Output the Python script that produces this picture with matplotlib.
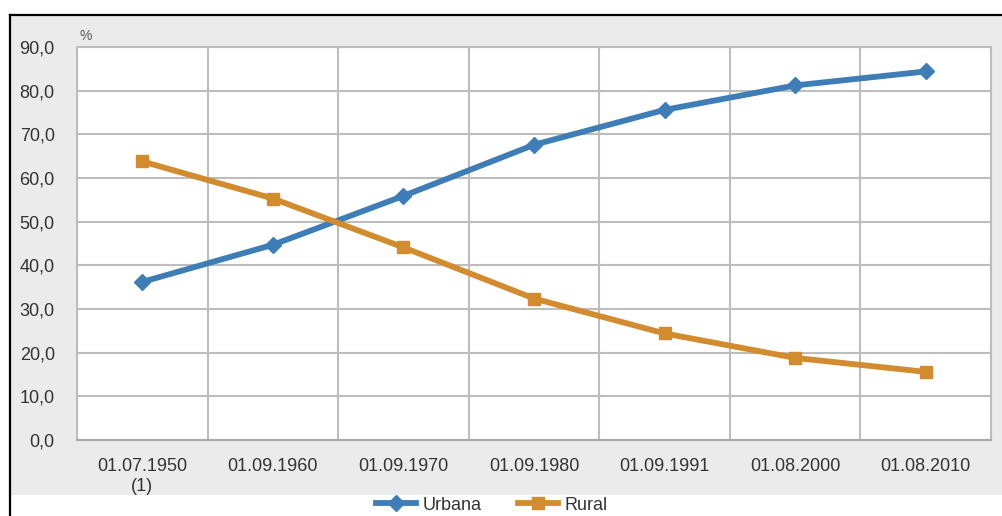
import matplotlib
matplotlib.use("Agg")
from matplotlib import pyplot as plt
from matplotlib.lines import Line2D
from matplotlib.patches import Rectangle

categories = ["01.07.1950\n(1)", "01.09.1960", "01.09.1970", "01.09.1980",
              "01.09.1991", "01.08.2000", "01.08.2010"]
urbana = [36.2, 44.7, 55.9, 67.6, 75.6, 81.2, 84.4]
rural = [63.8, 55.3, 44.1, 32.4, 24.4, 18.8, 15.6]
y_ticks = [0, 10, 20, 30, 40, 50, 60, 70, 80, 90]

plt.rcParams['font.family'] = ['Liberation Sans', 'DejaVu Sans']

W, H = 1003, 516
fig = plt.figure(figsize=(W / 100, H / 100), dpi=100)
fig.patch.set_facecolor('white')

# gray chart panel and black frame (left + top)
fig.add_artist(Rectangle((11 / W, 1 - 495 / H), 1 - 11 / W, (495 - 16) / H,
                         transform=fig.transFigure, facecolor='#ebebeb',
                         edgecolor='none', zorder=0))
fig.add_artist(Line2D([10 / W, 10 / W], [0, 1 - 15 / H], transform=fig.transFigure,
                      color='black', lw=1.6))
fig.add_artist(Line2D([10 / W, 1], [1 - 15 / H, 1 - 15 / H], transform=fig.transFigure,
                      color='black', lw=1.6))

ax = fig.add_axes([77 / W, 1 - 440 / H, (991 - 77) / W, (440 - 47) / H])
ax.set_facecolor('white')

x = list(range(len(categories)))
ax.plot(x, urbana, color='#3e7db6', lw=4.2, marker='D', markersize=8,
        label='Urbana', zorder=3)
ax.plot(x, rural, color='#d28b2e', lw=4.2, marker='s', markersize=9,
        label='Rural', zorder=3)

ax.set_xlim(-0.5, len(categories) - 0.5)
ax.set_ylim(0, 90)
ax.set_yticks(y_ticks)
ax.set_yticklabels([f"{v:.1f}".replace('.', ',') for v in y_ticks])
ax.set_xticks(x)
ax.set_xticklabels(categories)

grid_c = '#bdbdbd'
for v in y_ticks:
    ax.axhline(v, color=grid_c, lw=1.5, zorder=1)
for k in range(len(categories) + 1):
    ax.axvline(k - 0.5, color=grid_c, lw=1.5, zorder=1)

for s in ax.spines.values():
    s.set_color(grid_c)
    s.set_linewidth(1.5)
ax.spines['bottom'].set_color('#a8a8a8')

ax.tick_params(axis='both', length=0, labelsize=13, colors='#333333')
ax.tick_params(axis='x', pad=13)
ax.tick_params(axis='y', pad=16)

fig.text(80 / W, 1 - 36 / H, '%', fontsize=10, color='#555555', va='center')

fig.legend(loc='center', bbox_to_anchor=(492 / W, 1 - 505 / H), ncol=2,
           frameon=False, fontsize=13, handlelength=2.2, columnspacing=2.0,
           handletextpad=0.4, labelcolor='#333333', borderpad=0.1)

fig.savefig('out.png', dpi=100)
